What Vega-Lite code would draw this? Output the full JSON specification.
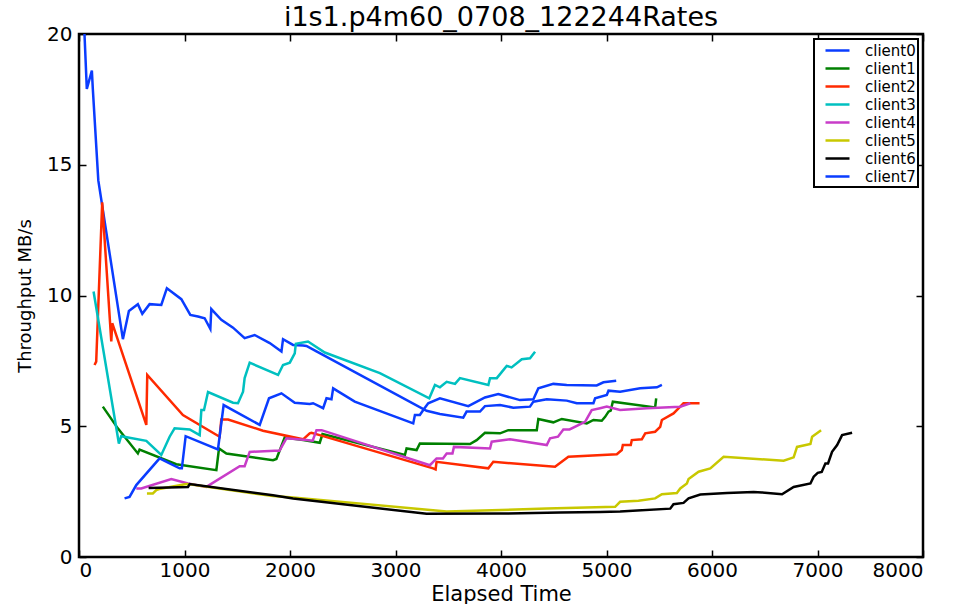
{
  "$schema": "https://vega.github.io/schema/vega-lite/v6.json",
  "autosize": "none",
  "width": 844,
  "height": 523,
  "padding": {"left": 79, "top": 34, "right": 32, "bottom": 47},
  "background": "white",
  "title": {"text": "i1s1.p4m60_0708_122244Rates", "font": "DejaVu Sans", "fontSize": 27, "fontWeight": "normal", "color": "black", "anchor": "middle", "offset": -8},
  "config": {
    "view": {"stroke": "black", "strokeWidth": 2.5},
    "axis": {"domain": false, "grid": false, "ticks": true, "tickColor": "black", "tickWidth": 1.5, "tickSize": 7, "offset": -7, "labelFont": "DejaVu Sans", "labelFontSize": 20, "labelColor": "black", "titleFont": "DejaVu Sans", "titleFontWeight": "normal", "titleColor": "black"},
    "legend": {"orient": "top-right", "offset": 5, "strokeColor": "black", "strokeWidth": 2, "fillColor": "white", "padding": 2, "labelFont": "DejaVu Sans", "labelFontSize": 15, "labelColor": "black", "symbolType": "M0,0H3", "symbolSize": 256, "symbolStrokeWidth": 2.5, "labelOffset": 30, "rowPadding": 0}
  },
  "data": {"values": [
{"c":"client0","t":52,"v":20.0},{"c":"client0","t":74,"v":17.9},{"c":"client0","t":122,"v":18.6},{"c":"client0","t":131,"v":17.9},{"c":"client0","t":183,"v":14.4},{"c":"client0","t":416,"v":8.33},{"c":"client0","t":473,"v":9.41},{"c":"client0","t":558,"v":9.67},{"c":"client0","t":600,"v":9.3},{"c":"client0","t":669,"v":9.67},{"c":"client0","t":780,"v":9.64},{"c":"client0","t":833,"v":10.28},{"c":"client0","t":970,"v":9.86},{"c":"client0","t":1055,"v":9.26},{"c":"client0","t":1128,"v":9.2},{"c":"client0","t":1191,"v":9.13},{"c":"client0","t":1245,"v":8.72},{"c":"client0","t":1254,"v":9.48},{"c":"client0","t":1349,"v":9.07},{"c":"client0","t":1460,"v":8.77},{"c":"client0","t":1570,"v":8.37},{"c":"client0","t":1665,"v":8.49},{"c":"client0","t":1808,"v":8.18},{"c":"client0","t":1919,"v":7.86},{"c":"client0","t":1934,"v":8.33},{"c":"client0","t":2029,"v":8.11},{"c":"client0","t":2124,"v":8.09},{"c":"client0","t":2156,"v":8.07},{"c":"client0","t":2251,"v":7.86},{"c":"client0","t":3295,"v":5.59},{"c":"client0","t":3421,"v":5.47},{"c":"client0","t":3642,"v":5.33},{"c":"client0","t":3674,"v":5.56},{"c":"client0","t":3801,"v":5.56},{"c":"client0","t":3848,"v":5.77},{"c":"client0","t":3991,"v":5.81},{"c":"client0","t":4117,"v":5.71},{"c":"client0","t":4275,"v":5.75},{"c":"client0","t":4307,"v":5.94},{"c":"client0","t":4434,"v":6.03},{"c":"client0","t":4623,"v":5.98},{"c":"client0","t":4718,"v":5.88},{"c":"client0","t":4876,"v":5.88},{"c":"client0","t":4892,"v":6.07},{"c":"client0","t":5003,"v":6.2},{"c":"client0","t":5019,"v":6.36},{"c":"client0","t":5129,"v":6.32},{"c":"client0","t":5319,"v":6.45},{"c":"client0","t":5478,"v":6.49},{"c":"client0","t":5525,"v":6.58},
{"c":"client1","t":226,"v":5.75},{"c":"client1","t":368,"v":4.92},{"c":"client1","t":558,"v":3.96},{"c":"client1","t":574,"v":4.11},{"c":"client1","t":922,"v":3.55},{"c":"client1","t":1302,"v":3.32},{"c":"client1","t":1327,"v":4.15},{"c":"client1","t":1397,"v":3.96},{"c":"client1","t":1839,"v":3.7},{"c":"client1","t":1871,"v":3.75},{"c":"client1","t":1950,"v":4.57},{"c":"client1","t":2124,"v":4.47},{"c":"client1","t":2282,"v":4.37},{"c":"client1","t":2308,"v":4.7},{"c":"client1","t":3089,"v":3.9},{"c":"client1","t":3105,"v":4.15},{"c":"client1","t":3200,"v":4.09},{"c":"client1","t":3231,"v":4.34},{"c":"client1","t":3706,"v":4.32},{"c":"client1","t":3769,"v":4.47},{"c":"client1","t":3848,"v":4.75},{"c":"client1","t":3991,"v":4.73},{"c":"client1","t":4069,"v":4.85},{"c":"client1","t":4339,"v":4.85},{"c":"client1","t":4354,"v":5.28},{"c":"client1","t":4496,"v":5.15},{"c":"client1","t":4576,"v":5.28},{"c":"client1","t":4813,"v":5.11},{"c":"client1","t":4876,"v":5.24},{"c":"client1","t":4955,"v":5.21},{"c":"client1","t":4987,"v":5.36},{"c":"client1","t":5019,"v":5.56},{"c":"client1","t":5040,"v":5.6},{"c":"client1","t":5060,"v":5.94},{"c":"client1","t":5461,"v":5.72},{"c":"client1","t":5471,"v":6.07},
{"c":"client2","t":147,"v":7.34},{"c":"client2","t":163,"v":7.47},{"c":"client2","t":220,"v":13.56},{"c":"client2","t":306,"v":8.24},{"c":"client2","t":315,"v":8.94},{"c":"client2","t":638,"v":5.05},{"c":"client2","t":647,"v":6.96},{"c":"client2","t":985,"v":5.43},{"c":"client2","t":1333,"v":4.6},{"c":"client2","t":1349,"v":5.26},{"c":"client2","t":1413,"v":5.26},{"c":"client2","t":1744,"v":4.83},{"c":"client2","t":2124,"v":4.5},{"c":"client2","t":2187,"v":4.73},{"c":"client2","t":2203,"v":4.75},{"c":"client2","t":2282,"v":4.66},{"c":"client2","t":3357,"v":3.39},{"c":"client2","t":3380,"v":3.35},{"c":"client2","t":3389,"v":3.64},{"c":"client2","t":3880,"v":3.39},{"c":"client2","t":3927,"v":3.64},{"c":"client2","t":4512,"v":3.45},{"c":"client2","t":4639,"v":3.83},{"c":"client2","t":5098,"v":3.93},{"c":"client2","t":5145,"v":4.09},{"c":"client2","t":5155,"v":4.28},{"c":"client2","t":5230,"v":4.28},{"c":"client2","t":5240,"v":4.47},{"c":"client2","t":5335,"v":4.5},{"c":"client2","t":5367,"v":4.73},{"c":"client2","t":5461,"v":4.79},{"c":"client2","t":5509,"v":4.98},{"c":"client2","t":5525,"v":5.24},{"c":"client2","t":5635,"v":5.49},{"c":"client2","t":5699,"v":5.75},{"c":"client2","t":5730,"v":5.88},{"c":"client2","t":5882,"v":5.88},
{"c":"client3","t":138,"v":10.15},{"c":"client3","t":378,"v":4.34},{"c":"client3","t":400,"v":4.62},{"c":"client3","t":638,"v":4.44},{"c":"client3","t":780,"v":3.9},{"c":"client3","t":859,"v":4.6},{"c":"client3","t":906,"v":4.92},{"c":"client3","t":1049,"v":4.88},{"c":"client3","t":1144,"v":4.66},{"c":"client3","t":1160,"v":5.62},{"c":"client3","t":1185,"v":5.62},{"c":"client3","t":1223,"v":6.31},{"c":"client3","t":1460,"v":5.9},{"c":"client3","t":1507,"v":5.88},{"c":"client3","t":1555,"v":6.32},{"c":"client3","t":1570,"v":6.84},{"c":"client3","t":1618,"v":7.43},{"c":"client3","t":1887,"v":6.96},{"c":"client3","t":1934,"v":7.34},{"c":"client3","t":1998,"v":7.43},{"c":"client3","t":2045,"v":7.79},{"c":"client3","t":2055,"v":8.15},{"c":"client3","t":2171,"v":8.24},{"c":"client3","t":2330,"v":7.82},{"c":"client3","t":2852,"v":7.03},{"c":"client3","t":3320,"v":6.07},{"c":"client3","t":3374,"v":6.58},{"c":"client3","t":3421,"v":6.49},{"c":"client3","t":3485,"v":6.7},{"c":"client3","t":3564,"v":6.62},{"c":"client3","t":3611,"v":6.84},{"c":"client3","t":3880,"v":6.58},{"c":"client3","t":3896,"v":6.84},{"c":"client3","t":3960,"v":6.84},{"c":"client3","t":4054,"v":7.31},{"c":"client3","t":4100,"v":7.25},{"c":"client3","t":4197,"v":7.56},{"c":"client3","t":4275,"v":7.6},{"c":"client3","t":4323,"v":7.85},
{"c":"client4","t":543,"v":2.62},{"c":"client4","t":590,"v":2.62},{"c":"client4","t":875,"v":2.98},{"c":"client4","t":1033,"v":2.81},{"c":"client4","t":1207,"v":2.68},{"c":"client4","t":1523,"v":3.47},{"c":"client4","t":1570,"v":3.47},{"c":"client4","t":1618,"v":4.02},{"c":"client4","t":1855,"v":4.06},{"c":"client4","t":1900,"v":4.06},{"c":"client4","t":1966,"v":4.54},{"c":"client4","t":2156,"v":4.47},{"c":"client4","t":2215,"v":4.45},{"c":"client4","t":2251,"v":4.85},{"c":"client4","t":2300,"v":4.85},{"c":"client4","t":3326,"v":3.51},{"c":"client4","t":3389,"v":3.77},{"c":"client4","t":3450,"v":3.77},{"c":"client4","t":3485,"v":3.96},{"c":"client4","t":3540,"v":3.96},{"c":"client4","t":3554,"v":4.21},{"c":"client4","t":3896,"v":4.15},{"c":"client4","t":3912,"v":4.41},{"c":"client4","t":4085,"v":4.5},{"c":"client4","t":4434,"v":4.28},{"c":"client4","t":4465,"v":4.54},{"c":"client4","t":4540,"v":4.6},{"c":"client4","t":4591,"v":4.88},{"c":"client4","t":4650,"v":4.88},{"c":"client4","t":4797,"v":5.17},{"c":"client4","t":4860,"v":5.62},{"c":"client4","t":4939,"v":5.69},{"c":"client4","t":5003,"v":5.75},{"c":"client4","t":5129,"v":5.62},{"c":"client4","t":5383,"v":5.69},{"c":"client4","t":5699,"v":5.75},{"c":"client4","t":5794,"v":5.88},
{"c":"client5","t":644,"v":2.43},{"c":"client5","t":700,"v":2.43},{"c":"client5","t":733,"v":2.56},{"c":"client5","t":760,"v":2.6},{"c":"client5","t":1017,"v":2.79},{"c":"client5","t":1049,"v":2.78},{"c":"client5","t":1839,"v":2.33},{"c":"client5","t":2029,"v":2.28},{"c":"client5","t":3485,"v":1.74},{"c":"client5","t":4434,"v":1.85},{"c":"client5","t":5082,"v":1.92},{"c":"client5","t":5129,"v":2.11},{"c":"client5","t":5303,"v":2.15},{"c":"client5","t":5461,"v":2.24},{"c":"client5","t":5525,"v":2.4},{"c":"client5","t":5667,"v":2.45},{"c":"client5","t":5699,"v":2.62},{"c":"client5","t":5762,"v":2.81},{"c":"client5","t":5778,"v":2.98},{"c":"client5","t":5873,"v":3.26},{"c":"client5","t":5984,"v":3.39},{"c":"client5","t":6110,"v":3.83},{"c":"client5","t":6679,"v":3.68},{"c":"client5","t":6774,"v":3.81},{"c":"client5","t":6806,"v":4.21},{"c":"client5","t":6933,"v":4.32},{"c":"client5","t":6949,"v":4.6},{"c":"client5","t":7034,"v":4.85},
{"c":"client6","t":660,"v":2.64},{"c":"client6","t":1033,"v":2.68},{"c":"client6","t":1049,"v":2.79},{"c":"client6","t":1839,"v":2.36},{"c":"client6","t":2029,"v":2.24},{"c":"client6","t":3295,"v":1.65},{"c":"client6","t":3991,"v":1.66},{"c":"client6","t":4560,"v":1.7},{"c":"client6","t":4939,"v":1.72},{"c":"client6","t":5129,"v":1.74},{"c":"client6","t":5604,"v":1.85},{"c":"client6","t":5635,"v":2.02},{"c":"client6","t":5730,"v":2.07},{"c":"client6","t":5778,"v":2.24},{"c":"client6","t":5889,"v":2.39},{"c":"client6","t":6142,"v":2.45},{"c":"client6","t":6395,"v":2.49},{"c":"client6","t":6474,"v":2.47},{"c":"client6","t":6664,"v":2.4},{"c":"client6","t":6774,"v":2.68},{"c":"client6","t":6933,"v":2.81},{"c":"client6","t":6964,"v":3.07},{"c":"client6","t":7002,"v":3.22},{"c":"client6","t":7040,"v":3.25},{"c":"client6","t":7075,"v":3.58},{"c":"client6","t":7100,"v":3.58},{"c":"client6","t":7138,"v":4.02},{"c":"client6","t":7186,"v":4.28},{"c":"client6","t":7233,"v":4.66},{"c":"client6","t":7328,"v":4.75},
{"c":"client7","t":432,"v":2.24},{"c":"client7","t":479,"v":2.3},{"c":"client7","t":543,"v":2.75},{"c":"client7","t":764,"v":3.77},{"c":"client7","t":859,"v":3.58},{"c":"client7","t":954,"v":3.39},{"c":"client7","t":975,"v":3.39},{"c":"client7","t":1011,"v":4.62},{"c":"client7","t":1317,"v":4.11},{"c":"client7","t":1371,"v":5.81},{"c":"client7","t":1713,"v":5.05},{"c":"client7","t":1801,"v":6.07},{"c":"client7","t":1919,"v":6.26},{"c":"client7","t":2045,"v":5.9},{"c":"client7","t":2187,"v":5.85},{"c":"client7","t":2219,"v":5.88},{"c":"client7","t":2314,"v":5.69},{"c":"client7","t":2346,"v":6.07},{"c":"client7","t":2393,"v":6.03},{"c":"client7","t":2409,"v":6.45},{"c":"client7","t":2614,"v":5.94},{"c":"client7","t":3168,"v":5.11},{"c":"client7","t":3184,"v":5.43},{"c":"client7","t":3231,"v":5.43},{"c":"client7","t":3263,"v":5.62},{"c":"client7","t":3310,"v":5.88},{"c":"client7","t":3421,"v":6.07},{"c":"client7","t":3690,"v":5.77},{"c":"client7","t":3848,"v":6.1},{"c":"client7","t":3974,"v":6.23},{"c":"client7","t":4180,"v":6.0},{"c":"client7","t":4307,"v":6.03},{"c":"client7","t":4354,"v":6.45},{"c":"client7","t":4496,"v":6.62},{"c":"client7","t":4623,"v":6.58},{"c":"client7","t":4907,"v":6.56},{"c":"client7","t":4971,"v":6.68},{"c":"client7","t":5092,"v":6.74}
  ]},
  "resolve": {"axis": {"x": "independent", "y": "independent"}},
  "layer": [
    {
      "mark": {"type": "line", "strokeWidth": 2.5, "clip": true},
      "encoding": {
        "x": {"field": "t", "type": "quantitative", "scale": {"domain": [0, 8000], "nice": false}, "axis": {"values": [0,1000,2000,3000,4000,5000,6000,7000,8000], "format": "d", "labelPadding": 3, "title": "Elapsed Time", "titleFontSize": 21, "titlePadding": 3}},
        "y": {"field": "v", "type": "quantitative", "scale": {"domain": [0, 20], "nice": false}, "axis": {"values": [0,5,10,15,20], "labelPadding": 7, "title": "Throughput MB/s", "titleFontSize": 18, "titlePadding": 12}},
        "color": {"field": "c", "type": "nominal", "legend": {"title": null}, "scale": {"domain": ["client0","client1","client2","client3","client4","client5","client6","client7"], "range": ["#0a3cff","#008000","#ff2a00","#00c0c0","#c83cc8","#c8c800","#000000","#0a3cff"]}}
      }
    },
    {
      "mark": {"type": "line", "opacity": 0},
      "encoding": {
        "x": {"field": "t", "type": "quantitative", "axis": {"orient": "top", "values": [0,1000,2000,3000,4000,5000,6000,7000,8000], "labels": false, "title": null}},
        "y": {"field": "v", "type": "quantitative", "axis": {"orient": "right", "values": [0,5,10,15,20], "labels": false, "title": null}},
        "detail": {"field": "c"}
      }
    }
  ]
}
